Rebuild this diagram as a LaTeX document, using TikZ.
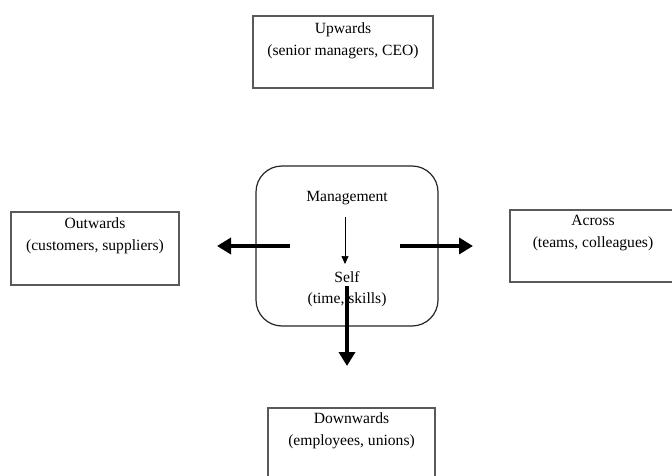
\documentclass[tikz,border=0pt]{standalone}
\usepackage{fontspec}
\setmainfont{Liberation Serif}
\usetikzlibrary{arrows.meta}
\begin{document}
\begin{tikzpicture}[x=1pt,y=-1pt,
  outerbox/.style={draw=black!65,line width=1.3pt,rectangle,inner sep=0pt},
  label/.style={anchor=north,align=center,font=\fontsize{15.6}{21.5}\selectfont,inner sep=0pt},
  centrebox/.style={draw=black!85,line width=1.2pt,rounded corners=26pt,inner sep=0pt},
  bigarrow/.style={line width=4pt,-{Triangle[length=14pt,width=16pt]}},
  thinarrow/.style={line width=0.6pt,-{Triangle[length=8pt,width=7pt]}}]
\useasboundingbox (0,0) rectangle (672,476);
\fill[white] (0,0) rectangle (672,476);
\begin{scope}
\clip (0,0) rectangle (672,476);
% outer boxes
\node[outerbox,minimum width=180pt,minimum height=72pt] (up) at (343,52) {};
\node[label] (uptext) at (343,22.5) {Upwards\\(senior managers, CEO)};
\node[outerbox,minimum width=168pt,minimum height=73pt] (out) at (95,248.5) {};
\node[label] (outtext) at (95,217.5) {Outwards\\(customers, suppliers)};
\node[outerbox,minimum width=166pt,minimum height=72pt] (across) at (593,246) {};
\node[label] (acrosstext) at (593,215.5) {Across\\(teams, colleagues)};
\node[outerbox,minimum width=167pt,minimum height=72pt] (down) at (351.5,444) {};
\node[label] (downtext) at (351.5,412.5) {Downwards\\(employees, unions)};
% centre box
\node[centrebox,minimum width=182pt,minimum height=160pt] (centre) at (347,246) {};
\node[label] (mgmt) at (347,191) {Management};
\node[label] (self) at (347,271) {Self\\(time, skills)};
\draw[thinarrow] ([xshift=-2pt,yshift=-12pt]mgmt.south) -- ([xshift=-2pt,yshift=7pt]self.north);
% thick arrows
\coordinate (ls) at (290,246);
\coordinate (le) at (217,246);
\coordinate (rs) at (400,246);
\coordinate (re) at (473,246);
\coordinate (ds) at (347,286);
\coordinate (de) at (347,366);
\draw[bigarrow] (ls) -- (le);
\draw[bigarrow] (rs) -- (re);
\draw[bigarrow] (ds) -- (de);
\end{scope}
\end{tikzpicture}
\end{document}
